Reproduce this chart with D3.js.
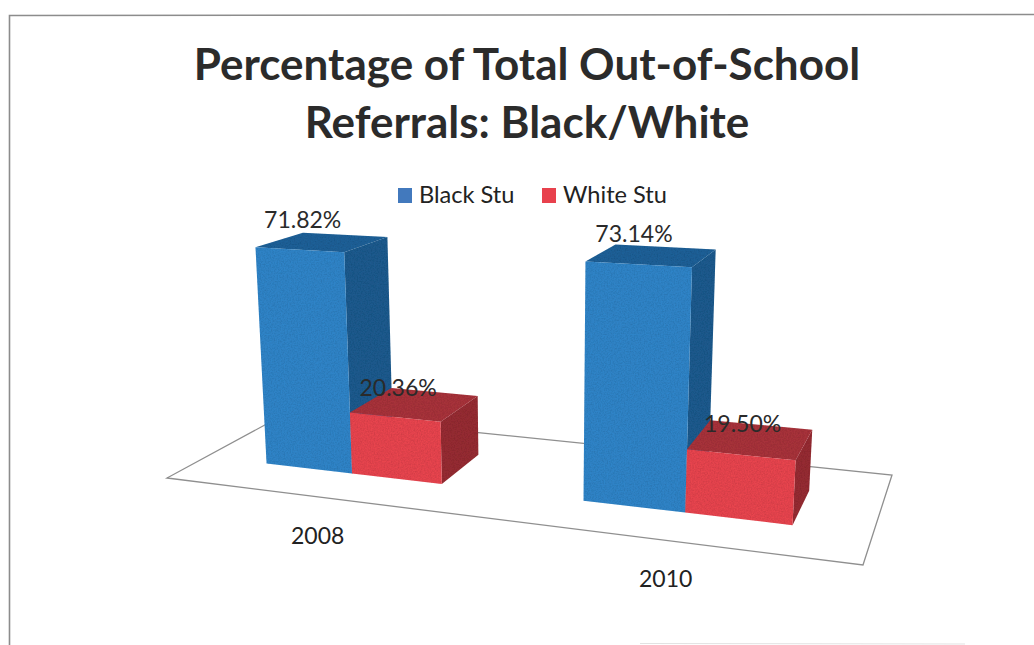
<!DOCTYPE html>
<html>
<head>
<meta charset="utf-8">
<title>Percentage of Total Out-of-School Referrals</title>
<script src="https://cdn.jsdelivr.net/npm/d3@7"></script>
<style>
  html, body { margin: 0; padding: 0; background: #fff; }
  svg { display: block; }
  text { font-family: Lato, "Noto Sans", sans-serif; fill: #222; }
</style>
</head>
<body>
<div id="chart"></div>
<script>
var categories   = ['2008', '2010'];
var seriesNames  = ['Black Stu', 'White Stu'];
var blackValues  = [71.82, 73.14];
var whiteValues  = [20.36, 19.50];
var titleLines   = ['Percentage of Total Out-of-School', 'Referrals: Black/White'];

var W = 1034, H = 645;

var COLORS = [
  { legend: '#4279bd', front: '#2f84c8', side: '#1b5a8e', top: '#1c6098' },
  { legend: '#e8414d', front: '#e8444e', side: '#962b32', top: '#a8323a' }
];

var svg = d3.select('#chart').append('svg').attr('width', W).attr('height', H);

// Speckle that the printed and scanned faces have
var grain = svg.append('defs').append('filter').attr('id', 'grain')
  .attr('x', 0).attr('y', 0).attr('width', 1).attr('height', 1);
grain.append('feTurbulence').attr('type', 'fractalNoise').attr('baseFrequency', 0.7)
  .attr('numOctaves', 2).attr('seed', 4).attr('result', 'n');
grain.append('feColorMatrix').attr('in', 'n').attr('type', 'matrix')
  .attr('values', '0 0 0 0 0  0 0 0 0 0  0 0 0 0 0  0.4 0 0 0 -0.12').attr('result', 'a');
grain.append('feComposite').attr('in', 'a').attr('in2', 'SourceGraphic').attr('operator', 'in').attr('result', 'b');
grain.append('feBlend').attr('in', 'SourceGraphic').attr('in2', 'b').attr('mode', 'multiply');

// ── Frame ────────────────────────────────────────────────────────────────────
svg.append('path').attr('d', 'M9.5 645 L9.5 15.5 L1034 14.5')
  .attr('fill', 'none').attr('stroke', '#8c8c8c').attr('stroke-width', 1.6);
svg.append('line').attr('x1', 640).attr('y1', 643.5).attr('x2', 965).attr('y2', 644)
  .attr('stroke', '#e2e2e2').attr('stroke-width', 1);

// ── Title ────────────────────────────────────────────────────────────────────
svg.selectAll('text.title').data(titleLines).enter().append('text')
  .attr('class', 'title')
  .attr('x', 527)
  .attr('y', function(d, i) { return 80 + i * 58; })
  .attr('text-anchor', 'middle')
  .attr('font-size', '44px').attr('font-weight', 'bold')
  .style('fill', '#2b2b2b')
  .text(function(d) { return d; });

// ── Legend ───────────────────────────────────────────────────────────────────
var legendX = [398, 542];
var legend = svg.selectAll('g.legend').data(seriesNames).enter().append('g')
  .attr('class', 'legend')
  .attr('transform', function(d, i) { return 'translate(' + legendX[i] + ',188)'; });
legend.append('rect').attr('width', 14).attr('height', 15)
  .attr('fill', function(d, i) { return COLORS[i].legend; });
legend.append('text').attr('x', 21).attr('y', 15).attr('font-size', '23.6px')
  .text(function(d) { return d; });

// ── Projection: floor corners on screen, verticals meet far below ────────────
var FLOOR = [[167, 478], [863, 565], [892, 475], [287, 413]];
var VANISH = [540, 5800];

function floorMatrix(q) {
  var dx1 = q[1][0] - q[2][0], dx2 = q[3][0] - q[2][0], sx = q[0][0] - q[1][0] + q[2][0] - q[3][0];
  var dy1 = q[1][1] - q[2][1], dy2 = q[3][1] - q[2][1], sy = q[0][1] - q[1][1] + q[2][1] - q[3][1];
  var den = dx1 * dy2 - dx2 * dy1;
  var g = (sx * dy2 - dx2 * sy) / den;
  var h = (dx1 * sy - sx * dy1) / den;
  return {
    a: q[1][0] - q[0][0] + g * q[1][0], b: q[3][0] - q[0][0] + h * q[3][0], c: q[0][0],
    d: q[1][1] - q[0][1] + g * q[1][1], e: q[3][1] - q[0][1] + h * q[3][1], f: q[0][1],
    g: g, h: h
  };
}
var M = floorMatrix(FLOOR);

// u across the floor, v into it, z up (value scale output)
function project(u, v, z) {
  var w = 1 + M.g * u + M.h * v;
  var k = -z;
  return [
    (M.a * u + M.b * v + M.c + k * VANISH[0]) / (w + k),
    (M.d * u + M.e * v + M.f + k * VANISH[1]) / (w + k)
  ];
}

var uScale = d3.scaleBand().domain(categories).range([0.002, 1]).paddingInner(0.426).paddingOuter(0.205);
var sScale = d3.scaleBand().domain(d3.range(seriesNames.length)).range([0, uScale.bandwidth()]);
var zScale = d3.scaleLinear().domain([0, 100]).range([0, 0.0558]);
var vFront = 0.30, vBack = 0.70;

var poly = d3.line();
function face(pts) { return poly(pts) + 'Z'; }

// Floor outline, bars go on top of it
svg.append('path').attr('d', face([project(0, 0, 0), project(1, 0, 0), project(1, 1, 0), project(0, 1, 0)]))
  .attr('fill', '#fff').attr('stroke', '#8f8f8f').attr('stroke-width', 1.3);

// ── Bars ─────────────────────────────────────────────────────────────────────
var barData = [];
categories.forEach(function(c, ci) {
  [blackValues, whiteValues].forEach(function(vals, si) {
    barData.push({ category: c, series: si, value: vals[ci] });
  });
});

var bars = svg.selectAll('g.bar').data(barData).enter().append('g').attr('class', 'bar')
  .attr('filter', 'url(#grain)');

bars.each(function(d) {
  var g = d3.select(this);
  var u0 = uScale(d.category) + sScale(d.series);
  var u1 = u0 + sScale.bandwidth();
  var z = zScale(d.value);
  var c = COLORS[d.series];
  g.append('path').attr('fill', c.side)
    .attr('d', face([project(u1, vFront, 0), project(u1, vBack, 0), project(u1, vBack, z), project(u1, vFront, z)]));
  g.append('path').attr('fill', c.top)
    .attr('d', face([project(u0, vFront, z), project(u1, vFront, z), project(u1, vBack, z), project(u0, vBack, z)]));
  g.append('path').attr('fill', c.front)
    .attr('d', face([project(u0, vFront, 0), project(u1, vFront, 0), project(u1, vFront, z), project(u0, vFront, z)]));
});

// ── Value labels ─────────────────────────────────────────────────────────────
var labelNudge = [[-42, -7], [-36, 4], [-31, -5], [-18, 7]];
svg.selectAll('text.value').data(barData).enter().append('text')
  .attr('class', 'value')
  .attr('transform', function(d, i) {
    var u = uScale(d.category) + sScale(d.series) + sScale.bandwidth() / 2;
    var p = project(u, vBack, zScale(d.value));
    return 'translate(' + (p[0] + labelNudge[i][0]) + ',' + (p[1] + labelNudge[i][1]) + ')';
  })
  .attr('text-anchor', 'middle').attr('font-size', '23px')
  .style('fill', '#2a2a2a')
  .text(function(d) { return d3.format('.2f')(d.value) + '%'; });

// ── Category labels ──────────────────────────────────────────────────────────
svg.selectAll('text.cat').data(categories).enter().append('text')
  .attr('class', 'cat')
  .attr('transform', function(d) {
    var p = project(uScale(d) + uScale.bandwidth() / 2, 0, 0);
    return 'translate(' + (p[0]) + ',' + (p[1] + 47) + ')';
  })
  .attr('text-anchor', 'middle').attr('font-size', '23px')
  .text(function(d) { return d; });
</script>
</body>
</html>
